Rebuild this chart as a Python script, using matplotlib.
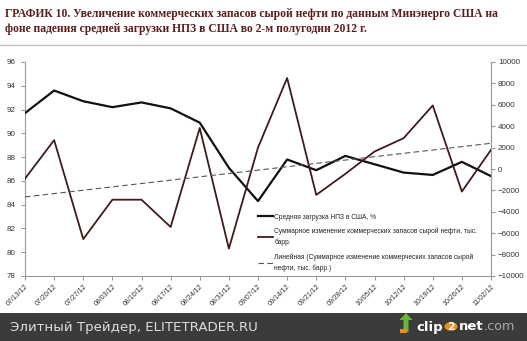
import matplotlib.pyplot as plt
import numpy as np
from matplotlib.patches import Rectangle, Circle, FancyArrow

# ---- data ----
dates = ['07/13/12', '07/20/12', '07/27/12', '08/03/12', '08/10/12', '08/17/12',
         '08/24/12', '08/31/12', '09/07/12', '09/14/12', '09/21/12', '09/28/12',
         '10/05/12', '10/12/12', '10/19/12', '10/26/12', '11/02/12']
refinery_util = [91.7, 93.6, 92.7, 92.2, 92.6, 92.1, 90.9, 87.1, 84.3,
                 87.8, 86.9, 88.1, 87.4, 86.7, 86.5, 87.6, 86.4]
stock_change = [-900, 2700, -6550, -2870, -2870, -5420, 3830, -7440, 2000,
                8500, -2420, -450, 1630, 2880, 5940, -2110, 1790]

left_ticks = [78, 80, 82, 84, 86, 88, 90, 92, 94, 96]
right_ticks = [-10000, -8000, -6000, -4000, -2000, 0, 2000, 4000, 6000, 8000, 10000]

title = ('ГРАФИК 10. Увеличение коммерческих запасов сырой нефти по данным Минэнерго США на\n'
         'фоне падения средней загрузки НПЗ в США во 2-м полугодии 2012 г.')
lbl_util = 'Средняя загрузка НПЗ в США, %'
lbl_stock = 'Суммарное изменение коммерческих запасов сырой нефти, тыс.\nбарр.'
lbl_trend = 'Линейная (Суммарное изменение коммерческих запасов сырой\nнефти, тыс. барр.)'

narrow = ['Liberation Sans', 'DejaVu Sans']
brown = '#3f1c1c'
axis_grey = '#9a9a9a'

fig = plt.figure(figsize=(5.27, 3.41), dpi=100)
fig.patch.set_facecolor('white')

# title and separator
fig.text(0.009, 0.977, title, ha='left', va='top', fontsize=8.4, fontweight='bold',
         family=['Liberation Serif', 'DejaVu Serif'], color='#5a1e1e', linespacing=1.4)
fig.add_artist(plt.Line2D([0, 1], [1 - 44.5 / 341, 1 - 44.5 / 341],
                          color='#c4c4c4', lw=1.0))

ax1 = fig.add_axes([25 / 527, 1 - 276 / 341, (491 - 25) / 527, (276 - 62) / 341])
ax2 = ax1.twinx()

x = np.arange(len(dates))
ax1.plot(x, refinery_util, color='#111111', lw=1.6, zorder=3)
ax2.plot(x, stock_change, color=brown, lw=1.3, zorder=2)
coef = np.polyfit(x, stock_change, 1)
ax2.plot(x, np.polyval(coef, x), color='#555555', lw=0.8, dashes=(5, 3))

ax1.set_xlim(0, len(dates) - 1)
ax1.set_ylim(78, 96)
ax2.set_ylim(-10000, 10000)
ax1.set_yticks(left_ticks)
ax2.set_yticks(right_ticks)
ax1.set_xticks(x)
ax1.set_xticklabels(dates, rotation=45, ha='right', rotation_mode='anchor')

for ax in (ax1, ax2):
    for s in ax.spines.values():
        s.set_color(axis_grey)
        s.set_linewidth(0.8)
    ax.spines['top'].set_visible(False)
    ax.tick_params(colors=axis_grey, length=3, width=0.8, labelcolor='#333333',
                   labelsize=5.8)
    for t in ax.get_yticklabels() + ax.get_xticklabels():
        t.set_family(narrow)
ax2.spines['left'].set_visible(False)
ax2.spines['bottom'].set_visible(False)
for t in ax1.get_xticklabels():
    t.set_fontsize(5.0)
ax1.tick_params(axis='x', pad=2)
ax2.tick_params(axis='y', pad=2)

# legend
h1 = plt.Line2D([], [], color='#111111', lw=1.6)
h2 = plt.Line2D([], [], color=brown, lw=1.3)
h3 = plt.Line2D([], [], color='#555555', lw=0.8, dashes=(5, 3))
leg = ax2.legend([h1, h2, h3], [lbl_util, lbl_stock, lbl_trend], loc='lower left',
                 bbox_to_anchor=(0.49, 0.0), frameon=False, handlelength=2.3,
                 handletextpad=0.2, labelspacing=1.1, borderaxespad=0.25,
                 prop={'family': narrow, 'size': 4.8})
for t in leg.get_texts():
    t.set_color('#222222')
    t.set_linespacing(1.6)

# footer bar
fig.add_artist(Rectangle((0, 0), 1, 28 / 341, transform=fig.transFigure,
                         facecolor='#3b3b3b', edgecolor='none'))
fig.text(10 / 527, 14 / 341, 'Элитный Трейдер, ELITETRADER.RU', ha='left', va='center',
         fontsize=9.6, color='#dddddd', family='DejaVu Sans')
fig.add_artist(FancyArrow(406 / 527, 9 / 341, 0, 12 / 341, width=5 / 527,
                          head_width=13 / 527, head_length=7 / 341,
                          transform=fig.transFigure, color='#6fb43a', lw=0))
fig.add_artist(Rectangle((400 / 527, 8 / 341), 7 / 527, 4 / 341, transform=fig.transFigure,
                         facecolor='#f08a1c', edgecolor='none'))
fig.text(416 / 527, 14 / 341, 'clip', ha='left', va='center', fontsize=9.5,
         fontweight='bold', color='white', family='DejaVu Sans')
fig.add_artist(Circle((451 / 527, 14.5 / 341), 0.0125, transform=fig.transFigure,
                      facecolor='#f08a1c', edgecolor='none'))
fig.text(451 / 527, 14 / 341, '2', ha='center', va='center', fontsize=8,
         fontweight='bold', color='white', family='DejaVu Sans')
fig.text(459 / 527, 14 / 341, 'net', ha='left', va='center', fontsize=9.5,
         fontweight='bold', color='white', family='DejaVu Sans')
fig.text(484 / 527, 14 / 341, '.com', ha='left', va='center', fontsize=9.2,
         color='#aaaaaa', family='DejaVu Sans')

fig.savefig('out.png', dpi=100)
